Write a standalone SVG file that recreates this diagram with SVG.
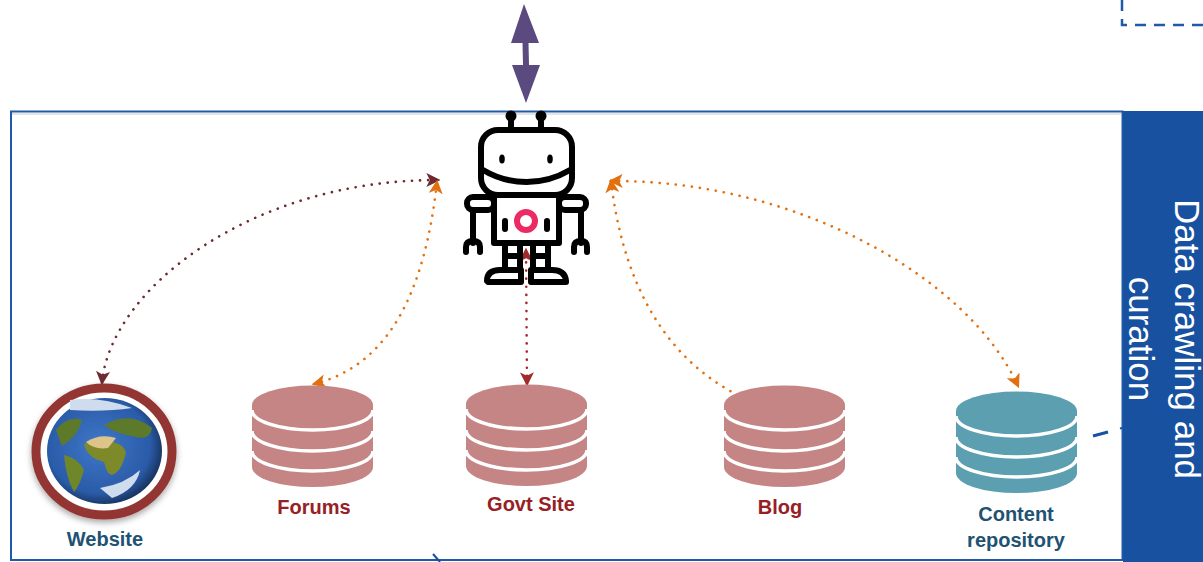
<svg xmlns="http://www.w3.org/2000/svg" width="1203" height="562" viewBox="0 0 1203 562">
<defs>
<radialGradient id="sea" cx="45%" cy="45%" r="60%"><stop offset="0" stop-color="#3f78c8"/><stop offset="0.75" stop-color="#2a5ba8"/><stop offset="1" stop-color="#14284a"/></radialGradient>
<filter id="soft" x="-10%" y="-10%" width="120%" height="120%"><feGaussianBlur stdDeviation="0.6"/></filter>
<filter id="blur2" x="-20%" y="-20%" width="140%" height="140%"><feGaussianBlur stdDeviation="1.6"/></filter>
<filter id="shadow" x="-15%" y="-15%" width="130%" height="130%"><feDropShadow dx="0" dy="3" stdDeviation="3" flood-color="#000" flood-opacity="0.35"/></filter>
<marker id="aMaroon" viewBox="0 0 12 12" refX="10" refY="6" markerWidth="14" markerHeight="14" markerUnits="userSpaceOnUse" orient="auto-start-reverse"><path d="M0 0L12 6L0 12L3 6Z" fill="#6e2a2e"/></marker>
<marker id="aOrange" viewBox="0 0 12 12" refX="10" refY="6" markerWidth="14" markerHeight="14" markerUnits="userSpaceOnUse" orient="auto-start-reverse"><path d="M0 0L12 6L0 12L3 6Z" fill="#e2700f"/></marker>
<marker id="aRed" viewBox="0 0 12 12" refX="10" refY="6" markerWidth="14" markerHeight="14" markerUnits="userSpaceOnUse" orient="auto-start-reverse"><path d="M0 0L12 6L0 12L3 6Z" fill="#a32a2a"/></marker>
<g id="cyl" filter="url(#soft)">
<path d="M0 19A60.500 19.500 0 0 1 121 19V81A60.500 20 0 0 1 0 81Z"/>
<g fill="none" stroke="#fff" stroke-width="3.500"><path d="M0 24A60.500 20 0 0 0 121 24"/><path d="M0 45A60.500 20 0 0 0 121 45"/><path d="M0 65A60.500 20 0 0 0 121 65"/></g>
</g>
</defs>
<style>
text{font-family:"Liberation Sans",Arial,sans-serif}
.lbl{font-size:20px;font-weight:700;text-anchor:middle}
.red{fill:#962023}
.blue{fill:#215272}
.side{font-size:35px;fill:#fff;text-anchor:middle}
.dot{fill:none;stroke-width:2.600;stroke-linecap:round;stroke-dasharray:0.100 8}
.rb{fill:#fff;stroke:#000;stroke-width:6;stroke-linejoin:round;stroke-linecap:round}
.rl{fill:none;stroke:#000;stroke-width:6;stroke-linecap:round;stroke-linejoin:round}
</style>
<g id="frame">
<rect x="11" y="111.500" width="1111.500" height="448.500" fill="#fff" stroke="#1f5aa8" stroke-width="2"/>
<path d="M12 114H1121" stroke="#e4e4e4" stroke-width="2"/>
<path d="M1122 0V25H1203" fill="none" stroke="#1f5aa8" stroke-width="2.500" stroke-dasharray="11 8"/>
</g>
<g id="panel">
<rect x="1123" y="111" width="80" height="451" fill="#17519f"/>
<text class="side" transform="translate(1175 339) rotate(90)">Data crawling and</text>
<text class="side" transform="translate(1129 339) rotate(90)">curation</text>
</g>
<g id="connectors">
<path d="M1093 436L1108 432" stroke="#17519f" stroke-width="3" fill="none"/>
<path d="M1120 428.500L1122 428" stroke="#17519f" stroke-width="2" fill="none"/>
<path d="M433 554L440 562" stroke="#17519f" stroke-width="2" fill="none"/>
<path d="M102 383C110 290 250 180 438 180" class="dot" stroke="#6e2a2e" marker-start="url(#aMaroon)" marker-end="url(#aMaroon)"/>
<path d="M314 384C390 365 425 290 437 182" class="dot" stroke="#e2700f" marker-start="url(#aOrange)" marker-end="url(#aOrange)"/>
<path d="M527 384L526 250" class="dot" stroke="#a32a2a" marker-start="url(#aRed)" marker-end="url(#aRed)"/>
<path d="M611 181C625 300 680 385 783 412" class="dot" stroke="#e2700f" marker-start="url(#aOrange)" marker-end="url(#aOrange)"/>
<path d="M611 181C800 180 970 280 1018 386" class="dot" stroke="#e2700f" marker-start="url(#aOrange)" marker-end="url(#aOrange)"/>
<path d="M524 4L539 43H528.500L529 65H540L526 103L512 65H523L522.500 43H511Z" fill="#5a4a80"/>
</g>
<g id="robot">
<path d="M511 122V140M541 122V140" class="rl"/>
<circle cx="511" cy="116" r="5.500" fill="#000"/><circle cx="541" cy="116" r="5.500" fill="#000"/>
<rect x="494" y="195" width="65" height="48" class="rb"/>
<rect x="481" y="130" width="91" height="65" rx="17" class="rb"/>
<path d="M483 170C510 186 543 186 570 170" class="rl"/>
<ellipse cx="502" cy="159" rx="2.800" ry="4.500" fill="#000"/><ellipse cx="550" cy="159" rx="2.800" ry="4.500" fill="#000"/>
<rect x="467" y="197" width="27" height="13" rx="6" class="rb"/><rect x="559" y="197" width="27" height="13" rx="6" class="rb"/>
<path d="M473 210V243M581 210V243" class="rl"/>
<path d="M466 252V247Q466 241 473 241Q480 241 480 247V252M574 252V247Q574 241 581 241Q587 241 587 247V252" class="rl"/>
<path d="M505 221V229M547 221V229" class="rl"/>
<circle cx="526" cy="221" r="9" fill="none" stroke="#ec2a63" stroke-width="6"/>
<path d="M505 243V268M520 243V268M533 243V268M548 243V268M505 256H520M533 256H548" class="rl" stroke-width="5"/>
<path d="M487 281Q487 270 500 270H521V282H488ZM531 270H552Q565 270 566 281V282H531Z" class="rb"/>
</g>
<g id="website">
<ellipse cx="104" cy="451.500" rx="68" ry="63.500" fill="#fff" stroke="#933533" stroke-width="9" filter="url(#shadow)"/>
<ellipse cx="104.500" cy="451" rx="57.500" ry="53" fill="url(#sea)" filter="url(#soft)"/>
<path d="M84 445Q90 436 108 441Q123 443 126 452Q122 470 114 474Q108 478 104 462Q88 458 84 445Z" fill="#7e8a2a" filter="url(#soft)"/>
<path d="M86 442Q100 433 116 438L108 448Q94 450 86 442Z" fill="#dcc48a" filter="url(#soft)"/>
<path d="M64 455Q78 458 84 470Q80 485 74 492Q66 478 64 455Z" fill="#70862c" filter="url(#soft)"/>
<path d="M56 430Q68 415 82 420Q78 436 62 446Z M104 425Q130 410 152 428Q150 442 132 436Q116 434 104 425Z" fill="#5d7a2b" filter="url(#soft)"/>
<path d="M70 400Q100 396 132 408Q105 412 70 410Z M100 488Q125 484 140 470Q136 490 112 498Z" fill="#cfdcee" filter="url(#soft)"/>
</g>
<g id="forums"><use href="#cyl" x="252" y="386" fill="#c58584"/><text class="lbl red" x="314" y="514">Forums</text></g>
<g id="govt"><use href="#cyl" x="466" y="385" fill="#c58584"/><text class="lbl red" x="531" y="511">Govt Site</text></g>
<g id="blog"><use href="#cyl" x="724" y="386" fill="#c58584"/><text class="lbl red" x="780" y="514">Blog</text></g>
<g id="repo"><use href="#cyl" x="956" y="392" fill="#5c9fb1"/><text class="lbl blue" x="1016" y="521">Content</text><text class="lbl blue" x="1016" y="547">repository</text></g>
<g id="weblabel"><text class="lbl blue" x="105" y="546">Website</text></g>
</svg>
